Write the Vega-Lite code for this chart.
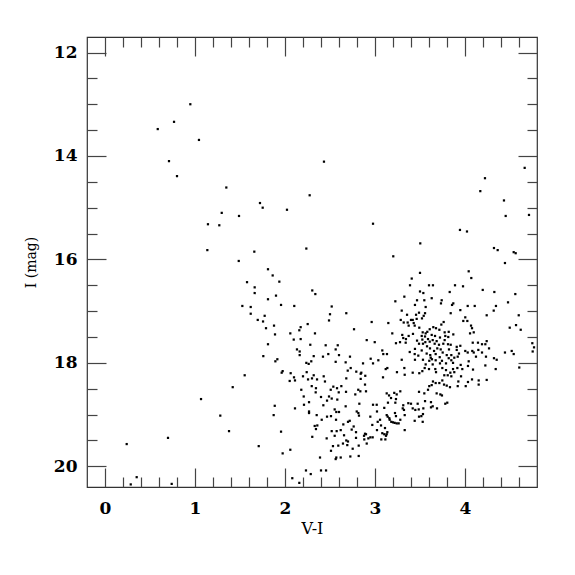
{
"$schema": "https://vega.github.io/schema/vega-lite/v6.json",
"width": 450, "height": 450,
"autosize": "none",
"padding": {"left": 87, "top": 37, "right": 38, "bottom": 51},
"background": "white",
"config": {"view": {"stroke": "#333333", "strokeWidth": 1.2},
  "axis": {"labelFont": "DejaVu Serif", "titleFont": "DejaVu Serif", "labelColor": "black", "titleColor": "black", "grid": false, "domain": false, "tickColor": "#444444", "tickWidth": 1.2, "labelFlush": false, "labelOverlap": false, "titleFontWeight": "normal"}},
"data": {"values": [
{"vi":0.948,"imag":13.00},{"vi":0.767,"imag":13.34},{"vi":0.586,"imag":13.48},{"vi":1.044,"imag":13.69},{"vi":0.711,"imag":14.10},{"vi":0.800,"imag":14.39},{"vi":1.348,"imag":14.61},{"vi":2.274,"imag":14.76},{"vi":1.722,"imag":14.91},{"vi":1.752,"imag":15.00},{"vi":2.022,"imag":15.04},{"vi":1.297,"imag":15.10},{"vi":1.489,"imag":15.16},{"vi":1.144,"imag":15.32},{"vi":1.270,"imag":15.34},{"vi":1.137,"imag":15.82},{"vi":1.659,"imag":15.85},{"vi":2.237,"imag":15.79},{"vi":1.486,"imag":16.03},
{"vi":2.433,"imag":14.11},{"vi":4.663,"imag":14.23},{"vi":4.222,"imag":14.43},{"vi":4.170,"imag":14.68},{"vi":4.433,"imag":14.86},{"vi":4.452,"imag":15.16},{"vi":4.711,"imag":15.14},{"vi":2.978,"imag":15.31},{"vi":3.944,"imag":15.43},{"vi":4.022,"imag":15.46},{"vi":3.503,"imag":15.69},{"vi":3.203,"imag":15.94},{"vi":4.322,"imag":15.78},{"vi":4.363,"imag":15.82},{"vi":4.541,"imag":15.86},{"vi":4.563,"imag":15.88},
{"vi":1.811,"imag":16.19},{"vi":1.863,"imag":16.31},{"vi":1.578,"imag":16.44},{"vi":1.937,"imag":16.43},{"vi":1.663,"imag":16.54},{"vi":1.663,"imag":16.65},{"vi":1.900,"imag":16.70},{"vi":1.811,"imag":16.77},{"vi":1.526,"imag":16.90},{"vi":1.619,"imag":16.92},{"vi":1.956,"imag":16.88},{"vi":2.103,"imag":16.90},{"vi":1.619,"imag":17.05},{"vi":1.774,"imag":17.09},{"vi":1.697,"imag":17.17},{"vi":1.756,"imag":17.20},{"vi":1.789,"imag":17.33},{"vi":1.878,"imag":17.28},{"vi":1.889,"imag":17.45},{"vi":2.174,"imag":17.31},{"vi":2.159,"imag":17.37},{"vi":2.059,"imag":17.43},{"vi":2.097,"imag":17.55},{"vi":2.174,"imag":17.54},{"vi":1.811,"imag":17.64},{"vi":2.133,"imag":17.74},{"vi":2.163,"imag":17.78},{"vi":2.163,"imag":17.85},{"vi":1.759,"imag":17.87},{"vi":1.915,"imag":17.93},{"vi":1.893,"imag":17.97},{"vi":1.974,"imag":18.16},{"vi":1.963,"imag":18.19},{"vi":2.063,"imag":18.20},{"vi":2.100,"imag":18.28},{"vi":2.052,"imag":18.35},{"vi":2.111,"imag":18.34},{"vi":2.200,"imag":18.26},{"vi":2.256,"imag":18.32},{"vi":1.552,"imag":18.24},{"vi":1.419,"imag":18.47},{"vi":2.181,"imag":18.52},{"vi":2.208,"imag":18.65},{"vi":2.211,"imag":18.81},{"vi":2.111,"imag":18.88},{"vi":1.886,"imag":18.83},{"vi":1.067,"imag":18.70},{"vi":1.874,"imag":19.01},{"vi":2.267,"imag":18.94},{"vi":1.281,"imag":19.02},{"vi":1.378,"imag":19.32},{"vi":1.956,"imag":19.33},{"vi":0.700,"imag":19.45},{"vi":0.241,"imag":19.57},{"vi":1.708,"imag":19.61},{"vi":2.059,"imag":19.68},{"vi":1.974,"imag":19.75},{"vi":2.233,"imag":20.08},{"vi":2.081,"imag":20.23},{"vi":2.159,"imag":20.32},{"vi":0.352,"imag":20.21},{"vi":0.286,"imag":20.35},{"vi":0.741,"imag":20.34},
{"vi":2.303,"imag":16.60},{"vi":2.337,"imag":16.67},{"vi":2.519,"imag":16.91},{"vi":2.681,"imag":17.04},{"vi":2.500,"imag":17.06},{"vi":2.489,"imag":17.18},{"vi":2.252,"imag":17.25},{"vi":2.963,"imag":17.21},{"vi":3.148,"imag":17.23},{"vi":2.767,"imag":17.35},{"vi":2.333,"imag":17.43},{"vi":3.408,"imag":16.37},{"vi":3.389,"imag":16.50},{"vi":3.326,"imag":16.72},{"vi":3.226,"imag":16.81},{"vi":3.467,"imag":16.79},{"vi":3.444,"imag":16.88},{"vi":3.297,"imag":16.99},{"vi":3.356,"imag":17.07},{"vi":3.456,"imag":17.07},{"vi":3.489,"imag":17.03},{"vi":3.286,"imag":17.17},{"vi":3.319,"imag":17.22},{"vi":3.363,"imag":17.22},{"vi":3.400,"imag":17.17},{"vi":3.419,"imag":17.17},{"vi":3.463,"imag":17.15},{"vi":3.430,"imag":17.23},{"vi":3.374,"imag":17.28},{"vi":3.441,"imag":17.28},{"vi":3.492,"imag":17.32},{"vi":3.192,"imag":17.43},{"vi":3.303,"imag":17.46},{"vi":3.314,"imag":17.52},{"vi":3.344,"imag":17.54},{"vi":3.374,"imag":17.48},{"vi":3.422,"imag":17.44},{"vi":2.908,"imag":17.56},{"vi":2.997,"imag":17.60},{"vi":3.233,"imag":17.62},{"vi":3.278,"imag":17.60},{"vi":3.341,"imag":17.61},{"vi":3.467,"imag":17.57},{"vi":3.489,"imag":17.63},{"vi":3.444,"imag":17.73},{"vi":2.281,"imag":17.65},{"vi":2.452,"imag":17.66},{"vi":2.586,"imag":17.66},{"vi":2.563,"imag":17.74},{"vi":2.481,"imag":17.83},{"vi":2.600,"imag":17.85},{"vi":2.319,"imag":17.87},{"vi":2.422,"imag":17.88},{"vi":2.722,"imag":17.88},{"vi":3.081,"imag":17.76},{"vi":3.092,"imag":17.83},{"vi":3.133,"imag":17.83},{"vi":3.386,"imag":17.79},{"vi":3.441,"imag":17.83},{"vi":3.481,"imag":17.86},{"vi":2.952,"imag":17.92},{"vi":3.297,"imag":17.94},{"vi":3.037,"imag":17.95},{"vi":2.563,"imag":17.98},{"vi":2.674,"imag":17.99},{"vi":2.867,"imag":18.01},{"vi":2.978,"imag":18.01},{"vi":3.444,"imag":17.94},{"vi":2.237,"imag":18.00},{"vi":2.263,"imag":18.02},{"vi":2.292,"imag":17.97},{"vi":2.730,"imag":18.10},{"vi":2.697,"imag":18.15},{"vi":2.792,"imag":18.17},{"vi":2.848,"imag":18.19},{"vi":2.841,"imag":18.21},{"vi":2.892,"imag":18.25},{"vi":3.119,"imag":18.12},{"vi":3.137,"imag":18.10},{"vi":3.244,"imag":18.18},{"vi":3.326,"imag":18.10},{"vi":3.330,"imag":18.23},{"vi":3.419,"imag":18.19},{"vi":3.492,"imag":18.20},{"vi":2.241,"imag":18.18},{"vi":2.319,"imag":18.24},{"vi":2.430,"imag":18.26},
{"vi":4.444,"imag":16.07},{"vi":4.041,"imag":16.23},{"vi":4.070,"imag":16.36},{"vi":3.500,"imag":16.26},{"vi":3.600,"imag":16.50},{"vi":3.644,"imag":16.50},{"vi":3.889,"imag":16.50},{"vi":3.978,"imag":16.52},{"vi":3.500,"imag":16.62},{"vi":3.537,"imag":16.65},{"vi":3.830,"imag":16.63},{"vi":4.197,"imag":16.59},{"vi":4.326,"imag":16.63},{"vi":4.559,"imag":16.67},{"vi":3.630,"imag":16.75},{"vi":3.741,"imag":16.79},{"vi":3.733,"imag":16.85},{"vi":3.548,"imag":16.79},{"vi":3.870,"imag":16.85},{"vi":3.856,"imag":16.88},{"vi":3.563,"imag":16.92},{"vi":4.030,"imag":16.90},{"vi":4.108,"imag":16.90},{"vi":4.344,"imag":16.90},{"vi":4.478,"imag":16.83},{"vi":3.948,"imag":16.98},{"vi":4.319,"imag":16.99},{"vi":3.556,"imag":17.04},{"vi":3.541,"imag":17.09},{"vi":3.841,"imag":17.04},{"vi":4.241,"imag":17.08},{"vi":4.597,"imag":17.08},{"vi":3.522,"imag":17.14},{"vi":4.003,"imag":17.12},{"vi":3.981,"imag":17.19},{"vi":4.026,"imag":17.19},{"vi":3.763,"imag":17.21},{"vi":3.737,"imag":17.26},{"vi":4.567,"imag":17.27},{"vi":4.497,"imag":17.32},{"vi":4.619,"imag":17.36},{"vi":4.067,"imag":17.28},{"vi":4.078,"imag":17.33},{"vi":3.648,"imag":17.31},{"vi":3.678,"imag":17.33},{"vi":3.608,"imag":17.35},{"vi":3.715,"imag":17.36},{"vi":3.774,"imag":17.41},{"vi":3.819,"imag":17.40},{"vi":3.870,"imag":17.45},{"vi":4.056,"imag":17.43},{"vi":4.097,"imag":17.41},{"vi":3.530,"imag":17.41},{"vi":3.563,"imag":17.43},{"vi":3.581,"imag":17.40},{"vi":3.630,"imag":17.46},{"vi":3.519,"imag":17.48},{"vi":3.556,"imag":17.49},{"vi":3.667,"imag":17.48},{"vi":3.722,"imag":17.51},{"vi":3.781,"imag":17.48},{"vi":3.814,"imag":17.50},{"vi":3.526,"imag":17.55},{"vi":3.589,"imag":17.54},{"vi":3.641,"imag":17.56},{"vi":3.685,"imag":17.58},{"vi":3.774,"imag":17.56},{"vi":3.559,"imag":17.60},{"vi":3.608,"imag":17.59},{"vi":3.533,"imag":17.63},{"vi":3.663,"imag":17.63},{"vi":3.711,"imag":17.65},{"vi":3.759,"imag":17.63},{"vi":3.811,"imag":17.64},{"vi":3.841,"imag":17.65},{"vi":3.908,"imag":17.69},{"vi":3.948,"imag":17.67},{"vi":4.086,"imag":17.61},{"vi":4.144,"imag":17.61},{"vi":4.189,"imag":17.64},{"vi":4.226,"imag":17.64},{"vi":4.241,"imag":17.58},{"vi":3.578,"imag":17.68},{"vi":3.611,"imag":17.72},{"vi":3.692,"imag":17.72},{"vi":3.730,"imag":17.74},{"vi":3.519,"imag":17.76},{"vi":3.656,"imag":17.77},{"vi":3.822,"imag":17.74},{"vi":3.908,"imag":17.75},{"vi":4.003,"imag":17.77},{"vi":4.081,"imag":17.77},{"vi":4.148,"imag":17.75},{"vi":4.267,"imag":17.72},{"vi":3.574,"imag":17.82},{"vi":3.614,"imag":17.85},{"vi":3.674,"imag":17.83},{"vi":3.752,"imag":17.80},{"vi":3.797,"imag":17.85},{"vi":3.848,"imag":17.85},{"vi":3.933,"imag":17.82},{"vi":4.030,"imag":17.80},{"vi":4.097,"imag":17.80},{"vi":4.189,"imag":17.80},{"vi":4.444,"imag":17.80},{"vi":4.519,"imag":17.77},{"vi":4.541,"imag":17.83},{"vi":3.619,"imag":17.90},{"vi":3.633,"imag":17.93},{"vi":3.719,"imag":17.89},{"vi":3.819,"imag":17.91},{"vi":3.881,"imag":17.90},{"vi":3.919,"imag":17.88},{"vi":4.122,"imag":17.88},{"vi":4.233,"imag":17.88},{"vi":4.322,"imag":17.91},{"vi":3.533,"imag":17.94},{"vi":3.603,"imag":17.96},{"vi":3.674,"imag":17.95},{"vi":3.744,"imag":17.96},{"vi":3.848,"imag":17.95},{"vi":4.041,"imag":17.97},{"vi":4.352,"imag":17.94},{"vi":3.563,"imag":18.03},{"vi":3.641,"imag":18.03},{"vi":3.722,"imag":18.01},{"vi":3.789,"imag":18.01},{"vi":3.867,"imag":18.00},{"vi":3.952,"imag":18.04},{"vi":4.033,"imag":18.06},{"vi":4.226,"imag":18.05},{"vi":4.603,"imag":18.09},{"vi":3.552,"imag":18.10},{"vi":3.600,"imag":18.12},{"vi":3.670,"imag":18.12},{"vi":3.748,"imag":18.10},{"vi":3.789,"imag":18.14},{"vi":3.867,"imag":18.12},{"vi":3.915,"imag":18.10},{"vi":3.970,"imag":18.12},{"vi":4.089,"imag":18.13},{"vi":4.341,"imag":18.12},{"vi":3.526,"imag":18.16},{"vi":3.678,"imag":18.18},{"vi":3.837,"imag":18.19},{"vi":3.881,"imag":18.18},{"vi":3.770,"imag":18.24},{"vi":3.808,"imag":18.24},{"vi":3.848,"imag":18.26},{"vi":3.956,"imag":18.26},{"vi":4.748,"imag":17.62},{"vi":4.767,"imag":17.70},{"vi":4.752,"imag":17.78},
{"vi":2.300,"imag":18.30},{"vi":2.356,"imag":18.32},{"vi":2.444,"imag":18.36},{"vi":2.681,"imag":18.30},{"vi":2.841,"imag":18.31},{"vi":3.089,"imag":18.28},{"vi":2.889,"imag":18.42},{"vi":2.297,"imag":18.45},{"vi":2.344,"imag":18.49},{"vi":2.537,"imag":18.46},{"vi":2.578,"imag":18.49},{"vi":2.626,"imag":18.45},{"vi":2.508,"imag":18.52},{"vi":2.597,"imag":18.57},{"vi":2.678,"imag":18.56},{"vi":2.814,"imag":18.52},{"vi":2.837,"imag":18.55},{"vi":2.900,"imag":18.55},{"vi":2.341,"imag":18.57},{"vi":2.400,"imag":18.66},{"vi":2.489,"imag":18.65},{"vi":2.519,"imag":18.69},{"vi":2.467,"imag":18.73},{"vi":2.581,"imag":18.71},{"vi":2.781,"imag":18.61},{"vi":3.130,"imag":18.59},{"vi":3.156,"imag":18.63},{"vi":3.214,"imag":18.58},{"vi":3.241,"imag":18.61},{"vi":3.281,"imag":18.55},{"vi":3.489,"imag":18.56},{"vi":3.178,"imag":18.68},{"vi":3.233,"imag":18.70},{"vi":2.267,"imag":18.76},{"vi":2.426,"imag":18.82},{"vi":2.674,"imag":18.84},{"vi":2.826,"imag":18.79},{"vi":2.978,"imag":18.81},{"vi":3.019,"imag":18.81},{"vi":3.144,"imag":18.77},{"vi":3.226,"imag":18.77},{"vi":3.314,"imag":18.82},{"vi":3.370,"imag":18.78},{"vi":3.400,"imag":18.79},{"vi":3.474,"imag":18.79},{"vi":3.419,"imag":18.88},{"vi":3.308,"imag":18.88},{"vi":3.322,"imag":18.91},{"vi":2.552,"imag":18.90},{"vi":2.570,"imag":18.95},{"vi":2.600,"imag":18.95},{"vi":2.797,"imag":18.94},{"vi":2.815,"imag":18.97},{"vi":3.022,"imag":18.94},{"vi":3.103,"imag":18.87},{"vi":3.222,"imag":18.97},{"vi":3.448,"imag":18.91},{"vi":3.486,"imag":18.90},{"vi":2.352,"imag":19.01},{"vi":2.467,"imag":19.04},{"vi":2.511,"imag":19.03},{"vi":2.822,"imag":19.02},{"vi":2.948,"imag":19.04},{"vi":3.130,"imag":19.01},{"vi":3.141,"imag":19.04},{"vi":3.159,"imag":19.07},{"vi":3.233,"imag":19.03},{"vi":3.281,"imag":19.10},{"vi":3.330,"imag":19.01},{"vi":3.489,"imag":19.04},{"vi":3.441,"imag":19.12},{"vi":2.267,"imag":18.97},{"vi":2.408,"imag":19.10},{"vi":2.567,"imag":19.10},{"vi":2.700,"imag":19.14},{"vi":2.719,"imag":19.12},{"vi":3.030,"imag":19.14},{"vi":3.056,"imag":19.10},{"vi":3.163,"imag":19.10},{"vi":3.181,"imag":19.14},{"vi":3.200,"imag":19.15},{"vi":3.219,"imag":19.16},{"vi":3.241,"imag":19.17},{"vi":3.263,"imag":19.17},{"vi":2.330,"imag":19.22},{"vi":2.359,"imag":19.21},{"vi":2.648,"imag":19.19},{"vi":2.763,"imag":19.23},{"vi":2.970,"imag":19.20},{"vi":3.067,"imag":19.21},{"vi":2.344,"imag":19.28},{"vi":2.741,"imag":19.29},{"vi":2.619,"imag":19.30},{"vi":2.789,"imag":19.34},{"vi":2.889,"imag":19.37},{"vi":3.022,"imag":19.30},{"vi":3.111,"imag":19.26},{"vi":3.137,"imag":19.34},{"vi":3.330,"imag":19.30},{"vi":2.519,"imag":19.32},{"vi":2.574,"imag":19.32},{"vi":2.303,"imag":19.43},{"vi":2.552,"imag":19.41},{"vi":2.656,"imag":19.40},{"vi":2.878,"imag":19.41},{"vi":2.900,"imag":19.38},{"vi":2.948,"imag":19.44},{"vi":2.974,"imag":19.44},{"vi":3.081,"imag":19.36},{"vi":3.103,"imag":19.38},{"vi":3.130,"imag":19.38},{"vi":3.122,"imag":19.41},{"vi":2.463,"imag":19.46},{"vi":2.789,"imag":19.45},{"vi":2.881,"imag":19.48},{"vi":2.926,"imag":19.46},{"vi":3.070,"imag":19.48},{"vi":3.115,"imag":19.48},{"vi":2.700,"imag":19.52},{"vi":2.681,"imag":19.50},{"vi":2.644,"imag":19.56},{"vi":2.908,"imag":19.56},{"vi":2.533,"imag":19.61},{"vi":2.592,"imag":19.60},{"vi":2.692,"imag":19.59},{"vi":2.819,"imag":19.60},{"vi":2.752,"imag":19.66},{"vi":2.511,"imag":19.70},{"vi":2.570,"imag":19.83},{"vi":2.563,"imag":19.86},{"vi":2.619,"imag":19.83},{"vi":2.726,"imag":19.81},{"vi":2.819,"imag":19.80},{"vi":2.389,"imag":19.83},{"vi":2.400,"imag":20.08},{"vi":2.456,"imag":20.08},{"vi":2.286,"imag":20.15},
{"vi":3.644,"imag":18.36},{"vi":3.674,"imag":18.39},{"vi":3.630,"imag":18.43},{"vi":3.603,"imag":18.45},{"vi":3.715,"imag":18.39},{"vi":3.748,"imag":18.34},{"vi":3.767,"imag":18.42},{"vi":3.797,"imag":18.44},{"vi":3.833,"imag":18.47},{"vi":3.919,"imag":18.45},{"vi":3.926,"imag":18.36},{"vi":4.008,"imag":18.45},{"vi":4.033,"imag":18.37},{"vi":4.078,"imag":18.32},{"vi":4.152,"imag":18.34},{"vi":4.152,"imag":18.42},{"vi":4.241,"imag":18.33},{"vi":3.589,"imag":18.52},{"vi":3.548,"imag":18.59},{"vi":3.685,"imag":18.59},{"vi":3.726,"imag":18.61},{"vi":3.744,"imag":18.63},{"vi":3.556,"imag":18.74},{"vi":3.622,"imag":18.76},{"vi":3.641,"imag":18.84},{"vi":3.622,"imag":18.86},{"vi":3.689,"imag":18.88},{"vi":3.781,"imag":18.79},{"vi":3.803,"imag":18.77},{"vi":3.537,"imag":18.88},{"vi":3.533,"imag":18.99},{"vi":3.515,"imag":19.03},{"vi":3.530,"imag":19.14}
]},
"layer": [
 {"mark": {"type": "square", "size": 5, "color": "black", "opacity": 1},
  "encoding": {
   "x": {"field": "vi", "type": "quantitative", "scale": {"domain": [-0.2, 4.8], "nice": false, "zero": false},
     "axis": {"orient": "bottom", "values": [0,0.2,0.4,0.6,0.8,1,1.2,1.4,1.6,1.8,2,2.2,2.4,2.6,2.8,3,3.2,3.4,3.6,3.8,4,4.2,4.4,4.6],
       "tickSize": {"condition": {"test": "datum.value % 1 === 0", "value": -19}, "value": -10},
       "labelExpr": "datum.value % 1 === 0 ? format(datum.value, 'd') : ''", "labelFontSize": 17, "labelFontWeight": "bold", "labelPadding": 32,
       "title": "V-I", "titleFontSize": 16, "titlePadding": -5}},
   "y": {"field": "imag", "type": "quantitative", "scale": {"domain": [11.7, 20.4], "reverse": true, "nice": false, "zero": false},
     "axis": {"orient": "left", "values": [12,12.5,13,13.5,14,14.5,15,15.5,16,16.5,17,17.5,18,18.5,19,19.5,20],
       "tickSize": {"condition": {"test": "datum.value % 2 === 0", "value": -19}, "value": -10},
       "labelExpr": "datum.value % 2 === 0 ? format(datum.value, 'd') : ''", "labelFontSize": 17, "labelFontWeight": "bold", "labelPadding": 29,
       "title": "I (mag)", "titleFontSize": 14, "titlePadding": 15}}
  }},
 {"mark": {"type": "square", "size": 5, "color": "black", "opacity": 0},
  "encoding": {
   "x": {"field": "vi", "type": "quantitative",
     "axis": {"orient": "top", "values": [0,0.2,0.4,0.6,0.8,1,1.2,1.4,1.6,1.8,2,2.2,2.4,2.6,2.8,3,3.2,3.4,3.6,3.8,4,4.2,4.4,4.6],
       "tickSize": {"condition": {"test": "datum.value % 1 === 0", "value": -19}, "value": -10},
       "labels": false, "title": null}},
   "y": {"field": "imag", "type": "quantitative",
     "axis": {"orient": "right", "values": [12,12.5,13,13.5,14,14.5,15,15.5,16,16.5,17,17.5,18,18.5,19,19.5,20],
       "tickSize": {"condition": {"test": "datum.value % 2 === 0", "value": -19}, "value": -10},
       "labels": false, "title": null}}
  }}
],
"resolve": {"axis": {"x": "independent", "y": "independent"}}
}
